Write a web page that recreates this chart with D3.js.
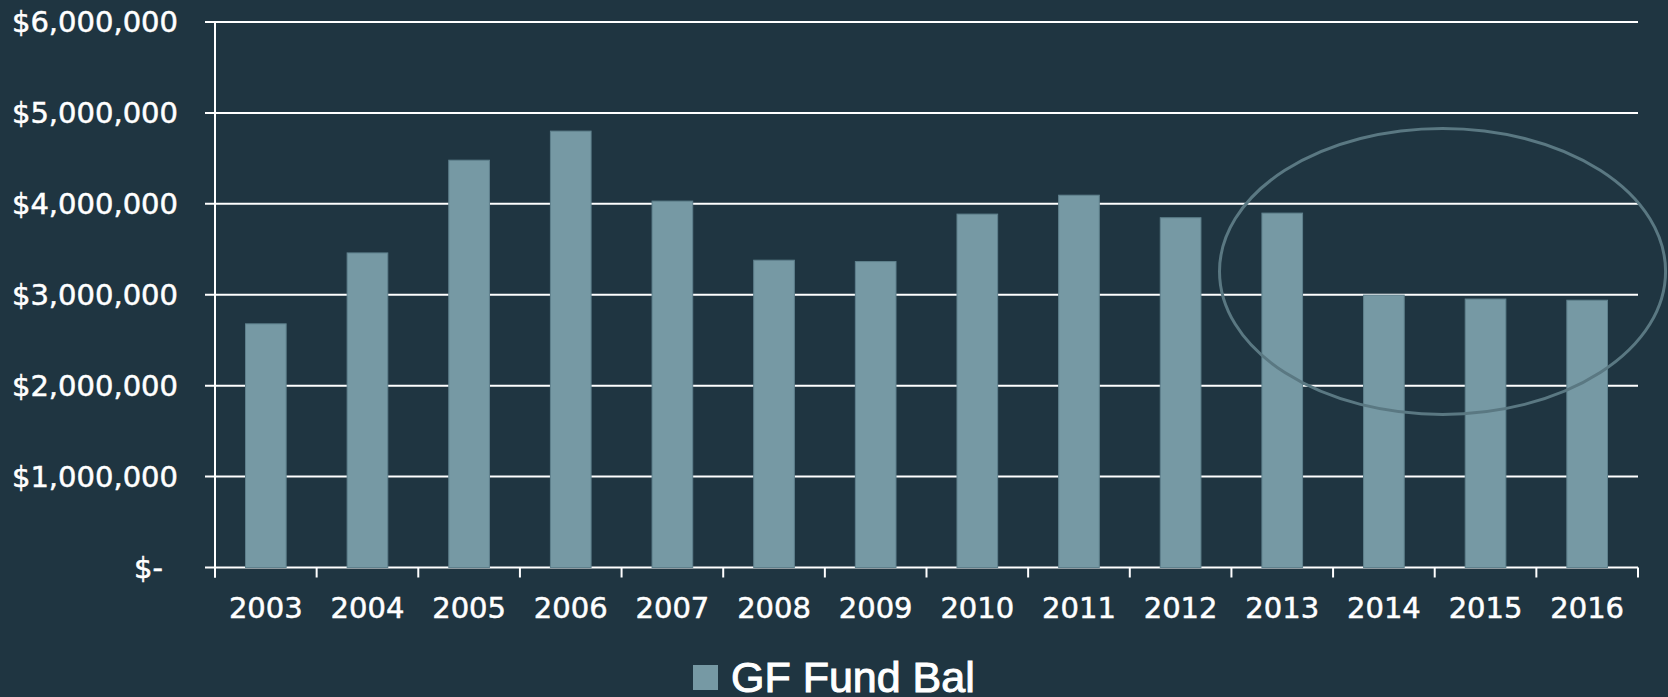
<!DOCTYPE html>
<html>
<head>
<meta charset="utf-8">
<script src="https://cdn.jsdelivr.net/npm/d3@7"></script>
<style>
  html, body { margin: 0; padding: 0; background: #1f3541; overflow: hidden; }
  svg { display: block; }
  .lbl { fill: #ffffff; stroke: #ffffff; stroke-width: 0.5px; }
</style>
</head>
<body>
<svg id="chart" width="1668" height="697"></svg>
<script>
// values
var years = ['2003', '2004', '2005', '2006', '2007', '2008', '2009', '2010', '2011', '2012', '2013', '2014', '2015', '2016'];
var fundBal = [2680000, 3460000, 4480000, 4800000, 4030000, 3380000, 3365000, 3887000, 4095000, 3847000, 3898000, 2996000, 2953000, 2940000];
var yTicks = [0, 1000000, 2000000, 3000000, 4000000, 5000000, 6000000];
var seriesName = 'GF Fund Bal';

var barColor = '#7699a4', lineColor = '#ffffff';

var svg = d3.select('#chart');
// plot area (window.top is read-only, so no bare "top")
var plotL = 215, plotR = 1638, plotT = 22, plotB = 567.5;

var x = d3.scaleBand()
    .domain(years)
    .range([plotL, plotR])
    .paddingInner(0.6)
    .paddingOuter(0.3);

var y = d3.scaleLinear()
    .domain([0, 6000000])
    .range([plotB, plotT]);

var fmt = function(d) {
    return d === 0 ? '$-' : '$' + d3.format(',')(d);
};

// gridlines + y ticks
svg.append('g').selectAll('line')
    .data(yTicks)
    .enter()
    .append('line')
    .attr('x1', plotL - 10)
    .attr('x2', plotR)
    .attr('y1', d => y(d))
    .attr('y2', d => y(d))
    .attr('stroke', lineColor)
    .attr('stroke-width', 2);

svg.append('g').selectAll('text')
    .data(yTicks)
    .enter()
    .append('text')
    .attr('class', 'lbl')
    .attr('x', d => d === 0 ? 163 : 178)
    .attr('y', d => y(d))
    .attr('dy', '0.36em')
    .attr('text-anchor', 'end')
    .style('font-family', '"DejaVu Sans", sans-serif')
    .style('font-size', '29px')
    .text(fmt);

// bars
svg.append('g').selectAll('rect')
    .data(fundBal)
    .enter()
    .append('rect')
    .attr('x', (d, i) => x(years[i]))
    .attr('width', x.bandwidth())
    .attr('y', d => y(d))
    .attr('height', d => y(0) - y(d))
    .attr('fill', barColor)
    .attr('stroke', '#5f818d')
    .attr('stroke-width', 1);

// y axis line
svg.append('line')
    .attr('x1', plotL).attr('x2', plotL)
    .attr('y1', plotT).attr('y2', plotB + 10)
    .attr('stroke', lineColor)
    .attr('stroke-width', 2);

// x axis tick marks between categories
var bounds = d3.range(years.length + 1);
svg.append('g').selectAll('line')
    .data(bounds)
    .enter()
    .append('line')
    .attr('x1', i => plotL + i * x.step())
    .attr('x2', i => plotL + i * x.step())
    .attr('y1', plotB)
    .attr('y2', plotB + 10)
    .attr('stroke', lineColor)
    .attr('stroke-width', 2);

svg.append('g').selectAll('text')
    .data(years)
    .enter()
    .append('text')
    .attr('class', 'lbl')
    .attr('x', d => x(d) + x.bandwidth() / 2)
    .attr('y', 618)
    .attr('text-anchor', 'middle')
    .style('font-family', '"DejaVu Sans", sans-serif')
    .style('font-size', '29px')
    .text(d => d);

// highlight ellipse round the last years
var eL = plotL + 9.868 * x.step(), eR = plotL + 14.286 * x.step();
var eT = y(4846000), eB = y(1667000);
svg.append('ellipse')
    .attr('cx', (eL + eR) / 2)
    .attr('cy', (eT + eB) / 2)
    .attr('rx', (eR - eL) / 2 - 1.5)
    .attr('ry', (eB - eT) / 2 - 1.5)
    .attr('fill', 'none')
    .attr('stroke', '#5a7882')
    .attr('stroke-width', 3);

// legend
var lg = svg.append('g');
lg.append('rect')
    .attr('x', 693).attr('y', 665)
    .attr('width', 25).attr('height', 25)
    .attr('fill', barColor);
lg.append('text')
    .attr('class', 'lbl')
    .attr('x', 731).attr('y', 692)
    .style('stroke-width', '1px')
    .style('font-family', '"Liberation Sans", Arial, sans-serif')
    .style('font-size', '43px')
    .text(seriesName);
</script>
</body>
</html>
